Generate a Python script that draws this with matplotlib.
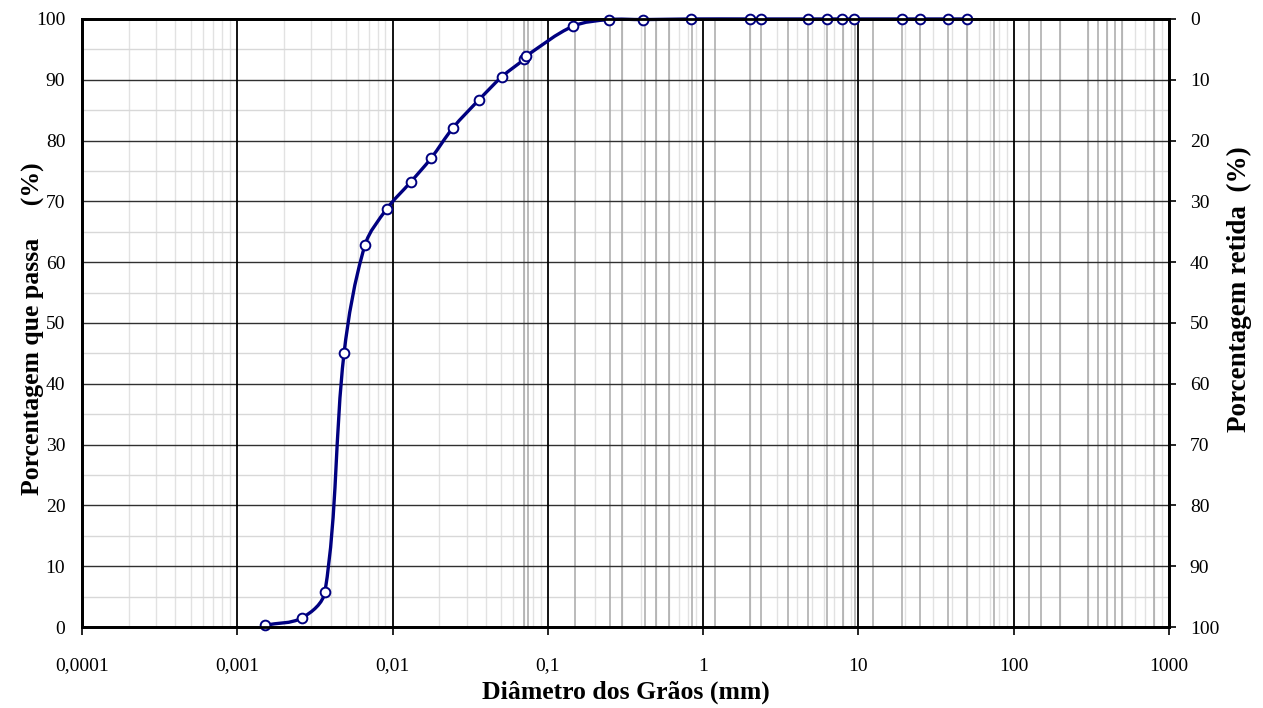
import numpy as np
import matplotlib
matplotlib.use("Agg")
import matplotlib.pyplot as plt
from matplotlib.path import Path
from matplotlib.patches import PathPatch
from matplotlib.ticker import FixedLocator, NullFormatter

# grain size distribution (sedimentation + sieving)
diametro = [0.00151, 0.00261, 0.00367, 0.00487, 0.00664, 0.0092, 0.0131,
            0.0177, 0.0245, 0.036, 0.0506, 0.0705, 0.0725, 0.145, 0.247,
            0.41, 0.84, 2.0, 2.36, 4.75, 6.3, 7.8, 9.3, 19.0, 25.0, 37.5, 50.0]
passa = [0.3, 1.5, 5.8, 45.0, 62.8, 68.8, 73.2, 77.1, 82.1, 86.7, 90.5,
         93.4, 93.9, 98.8, 99.9, 99.9, 100.0, 100.0, 100.0, 100.0, 100.0,
         100.0, 100.0, 100.0, 100.0, 100.0, 100.0]

# sieve openings drawn as extra vertical lines
peneiras = [0.07, 0.075, 0.15, 0.25, 0.3, 0.42, 0.5, 0.6, 0.85, 1.2, 2.0,
            2.36, 3.5, 4.75, 6.3, 8.0, 9.5, 12.5, 19.0, 25.0, 37.5, 50.0,
            75.0, 125.0, 150.0, 200.0, 300.0, 350.0, 400.0, 450.0, 500.0, 800.0]

x_ticks = [0.0001, 0.001, 0.01, 0.1, 1, 10, 100, 1000]
x_labels = ["0,0001", "0,001", "0,01", "0,1", "1", "10", "100", "1000"]
y_ticks = list(range(0, 101, 10))

plt.rcParams["font.family"] = ["Liberation Serif", "DejaVu Serif"]

fig = plt.figure(figsize=(12.63, 7.08), dpi=100)
ax = fig.add_axes([0.0649, 0.1144, 0.8607, 0.8588])

ax.set_xscale("log")
ax.set_xlim(0.0001, 1000)
ax.set_ylim(0, 100)

# light minor grid (2..9 of each decade, every 5 %)
minors = [m * 10.0 ** e for e in range(-4, 3) for m in range(2, 10)]
for v in minors:
    ax.axvline(v, color="#e2e2e2", lw=1.0, zorder=0)
for v in range(5, 100, 10):
    ax.axhline(v, color="#d8d8d8", lw=1.0, zorder=0)
for v in peneiras:
    ax.axvline(v, color="#a8a8a8", lw=1.1, zorder=0.5)
for v in y_ticks[1:-1]:
    ax.axhline(v, color="#303030", lw=1.0, zorder=1)
for v in x_ticks[1:-1]:
    ax.axvline(v, color="black", lw=1.3, zorder=1)

# smoothed line: cubic Bezier segments through the points; handles follow
# the neighbour direction, length a third of the segment (in pixel space)
bb = ax.get_window_extent()
escala = np.array([bb.width, bb.height])
pts = ax.transAxes.inverted().transform(
    ax.transData.transform(np.column_stack([diametro, passa]))) * escala
ext = np.vstack([pts[0], pts, pts[-1]])


def unit(v):
    n = np.hypot(*v)
    return v / n if n > 0 else v


verts = [pts[0]]
codes = [Path.MOVETO]
for i in range(len(pts) - 1):
    p0, p1, p2, p3 = ext[i], ext[i + 1], ext[i + 2], ext[i + 3]
    seg = np.hypot(*(p2 - p1)) / 3
    verts += [p1 + unit(p2 - p0) * seg, p2 - unit(p3 - p1) * seg, p2]
    codes += [Path.CURVE4] * 3
verts = np.array(verts) / escala
curva = PathPatch(Path(verts, codes), transform=ax.transAxes, fill=False,
                  edgecolor="#000080", lw=2.4, zorder=3, clip_on=False)
ax.add_patch(curva)
ax.plot(diametro, passa, ls="none", marker="o", ms=7, mfc="white",
        mec="#000080", mew=1.4, zorder=4, clip_on=False)

ax.xaxis.set_major_locator(FixedLocator(x_ticks))
ax.set_xticklabels(x_labels)
ax.xaxis.set_minor_formatter(NullFormatter())
ax.tick_params(axis="x", which="minor", length=0)
ax.tick_params(axis="x", which="major", direction="out", length=6, width=1.2,
               labelsize=14, pad=16)
ax.set_yticks(y_ticks)
ax.tick_params(axis="y", which="major", direction="in", length=0,
               labelsize=14, pad=12)

for s in ax.spines.values():
    s.set_linewidth(2)
    s.set_color("black")

ax.set_xlabel("Diâmetro dos Grãos (mm)", fontsize=18.5, fontweight="bold")
ax.xaxis.set_label_coords(0.5, -0.088)
ax.set_ylabel("Porcentagem que passa     (%)", fontsize=18.5,
              fontweight="bold")
ax.yaxis.set_label_coords(-0.034, 0.49)

ax2 = ax.twinx()
ax2.set_ylim(100, 0)
ax2.set_yticks(y_ticks)
ax2.tick_params(axis="y", direction="out", length=5, width=1.2,
                labelsize=14, pad=10)
for s in ax2.spines.values():
    s.set_linewidth(2)
ax2.set_ylabel("Porcentagem retida  (%)", fontsize=19.5, fontweight="bold")
ax2.yaxis.set_label_coords(1.053, 0.555)

fig.savefig("out.png", dpi=100)
